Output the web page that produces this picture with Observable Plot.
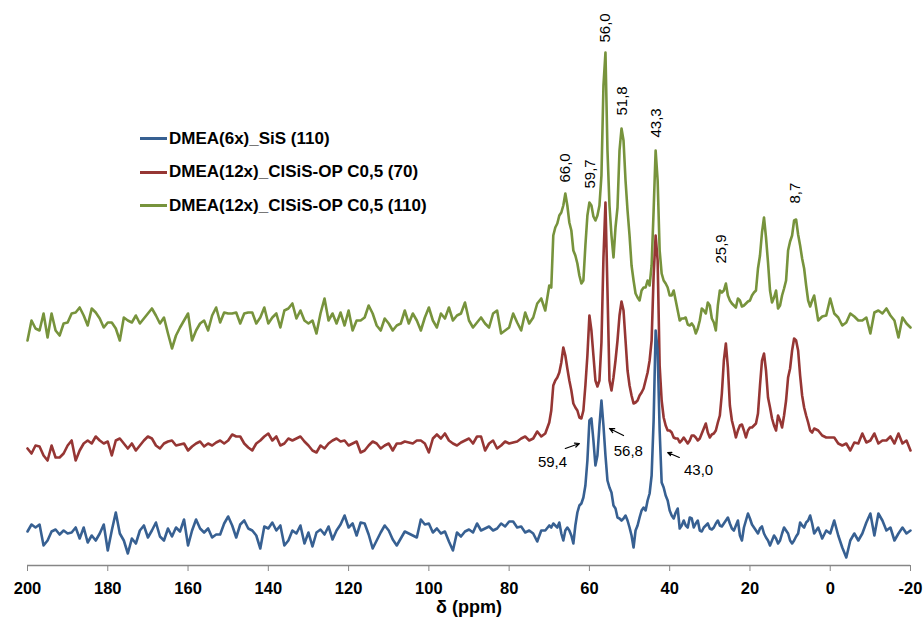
<!DOCTYPE html>
<html>
<head>
<meta charset="utf-8">
<script src="https://cdn.jsdelivr.net/npm/d3@7"></script>
<script src="https://cdn.jsdelivr.net/npm/@observablehq/plot@0.6"></script>
<style>
  html, body { margin: 0; padding: 0; background: #fff; }
  #wrap { position: relative; width: 923px; height: 623px; font-family: "Liberation Sans", Arial, sans-serif; }
  #legend { position: absolute; left: 140px; top: 122px; }
  .item { position: relative; height: 33.5px; display: flex; align-items: center; }
  .swatch { width: 27px; height: 0; border-top: 3px solid; margin-right: 2px; }
  .lab { font-weight: bold; font-size: 17px; color: #000; white-space: nowrap; }
</style>
</head>
<body>
<div id="wrap"><div id="chart"></div><div id="legend"></div></div>
<script>
// ---- sampling positions (ppm) ----
const ppm = [
  ...d3.range(200, 70.5, -1),   // 200 .. 71
  ...d3.range(70, 4.25, -0.5),  // 70 .. 4.5
  ...d3.range(4, -20.5, -1)     // 4 .. -20
];

// ---- series names / colours ----
const seriesNames = ["DMEA(6x)_SiS (110)", "DMEA(12x)_ClSiS-OP C0,5 (70)", "DMEA(12x)_ClSiS-OP C0,5 (110)"];
const seriesColors = ["#376092", "#963634", "#77933C"];

// ---- intensities (stacked display offsets included) ----
const greenVals = [
  225,245,237,235,252,228,252,235,230,242,
  243,252,253,258,250,240,257,253,247,238,
  243,243,237,225,248,245,243,250,242,247,
  252,257,250,242,248,232,217,230,238,245,
  252,225,235,242,245,235,250,258,243,253,
  252,252,253,242,252,253,253,242,248,258,
  242,248,252,238,255,257,262,247,255,245,
  242,245,232,252,267,245,252,242,253,240,
  255,235,245,245,248,260,252,240,235,247,
  242,235,240,242,255,242,252,245,235,248,
  258,245,238,252,247,258,245,250,252,263,
  245,238,243,248,242,238,252,255,232,235,
  238,252,243,235,253,242,248,262,267,255,
  // 70 .. 4.5 (step 0.5)
  280,278,330,338,342,350,353,360,372,360,
  343,335,315,310,302,290,282,285,320,350,
  363,360,349,345,350,360,390,480,513,415,
  360,330,308,338,358,415,437,425,385,355,
  330,300,285,272,268,265,275,278,278,285,
  280,300,355,415,385,315,292,285,282,278,
  270,270,275,265,255,245,247,247,248,241,
  240,242,239,232,237,245,257,255,252,263,
  260,247,243,235,260,275,273,275,282,270,
  265,262,260,258,267,265,259,260,262,264,
  265,270,273,275,297,310,333,348,328,303,
  275,263,268,275,257,260,270,277,285,315,
  324,330,345,346,331,320,307,297,280,265,
  259,265,
  // 4 .. -20
  270,245,249,250,267,252,248,240,243,252,
  249,245,245,248,232,253,255,252,257,250,
  245,228,248,242,238
];

const redVals = [
  117,112,120,119,110,105,120,108,108,112,
  120,125,105,115,122,125,122,129,125,122,
  124,110,125,127,122,117,122,115,120,125,
  129,127,120,117,122,124,125,120,121,122,
  115,119,122,124,119,122,120,123,125,122,
  125,131,129,129,122,118,115,122,125,129,
  132,125,129,120,122,127,125,127,129,124,
  120,115,113,120,117,122,125,127,124,125,
  120,122,124,113,115,120,124,122,117,120,
  122,115,122,122,124,123,122,125,125,122,
  113,127,131,127,132,125,122,120,123,125,
  127,122,129,129,115,122,125,117,120,124,
  122,123,124,127,129,125,127,134,129,132,
  // 70 .. 4.5 (step 0.5)
  143,155,180,185,188,193,203,218,210,197,
  185,175,162,158,155,148,147,155,180,210,
  250,235,210,185,179,185,223,308,363,275,
  185,175,188,205,225,250,264,255,225,195,
  180,170,162,163,165,170,173,177,185,193,
  205,225,290,330,305,200,165,148,140,135,
  135,133,128,127,127,123,125,128,125,122,
  125,130,130,128,125,127,132,137,142,133,
  128,131,132,135,143,150,172,205,222,198,
  160,145,137,128,135,140,141,135,128,135,
  138,138,140,142,152,180,205,212,195,168,
  158,147,140,135,150,145,138,150,165,188,
  197,215,227,225,215,190,170,158,150,143,
  135,133,
  // 4 .. -20
  137,135,130,128,128,128,122,120,122,115,
  123,122,132,123,125,132,122,125,125,129,
  122,132,122,125,115
];

const blueVals = [
  34,41,38,41,20,25,34,36,31,35,
  32,33,38,27,38,23,30,25,32,41,
  15,35,53,32,25,12,27,22,35,40,
  28,35,43,29,25,37,29,38,34,46,
  20,35,46,37,33,37,28,31,31,42,
  49,40,28,41,45,37,35,30,17,39,
  37,43,35,40,20,25,35,32,40,22,
  33,19,33,36,31,39,26,35,41,50,
  38,42,30,43,42,31,17,25,33,40,
  35,26,20,27,34,32,30,28,46,41,
  42,33,37,32,34,24,15,33,29,34,
  36,33,42,35,37,39,35,37,42,39,
  44,44,38,39,33,35,32,24,35,35,
  // 70 .. 4.5 (step 0.5)
  40,38,42,40,38,43,32,25,35,38,
  35,30,22,40,53,60,62,68,80,105,
  145,147,125,100,110,140,165,140,110,85,
  78,73,60,57,48,47,45,47,50,45,
  38,30,18,35,40,48,55,58,55,65,
  72,90,145,235,215,135,83,78,70,65,
  55,50,47,53,57,37,40,45,40,38,
  48,47,38,42,45,35,34,38,40,42,
  37,36,38,42,45,40,39,42,45,48,
  42,37,35,40,45,30,25,38,45,52,
  47,41,38,35,32,37,39,32,28,25,
  20,25,30,27,22,25,32,38,35,32,
  25,22,25,29,32,43,40,38,43,45,
  50,42,
  // 4 .. -20
  32,38,27,35,32,45,30,18,8,25,
  32,25,32,43,52,30,52,45,35,38,
  25,32,38,32,35
];

// ---- axis ticks ----
const xTicks = [200, 180, 160, 140, 120, 100, 80, 60, 40, 20, 0, -20];

// ---- peak annotations (green trace) ----
const peakLabels = ["66,0", "59,7", "56,0", "51,8", "43,3", "25,9", "8,7"];
const peakPpm    = [66.0, 59.7, 56.0, 51.8, 43.3, 27.2, 8.7];
const peakLabelY = [383, 377, 523, 450, 428, 302, 362];

// ---- blue-trace callouts ----
const calloutText = ["59,4", "56,8", "43,0"];
const calloutX    = [69.2, 50.3, 32.8];
const calloutY    = [103, 114, 95];
const arrowX1 = [66.0, 51.5, 37.6];
const arrowY1 = [117, 130, 108];
const arrowX2 = [62.5, 55.0, 40.5];
const arrowY2 = [122, 137, 113];

for (const [n, a] of [["green", greenVals], ["red", redVals], ["blue", blueVals]]) {
  if (a.length !== ppm.length) throw new Error(n + " length " + a.length + " != " + ppm.length);
}

const mk = (vals) => ppm.map((p, i) => ({ppm: p, v: vals[i]}));
const green = mk(greenVals), red = mk(redVals), blue = mk(blueVals);
const peaks = peakLabels.map((t, i) => ({t, x: peakPpm[i], y: peakLabelY[i]}));
const callouts = calloutText.map((t, i) => ({t, x: calloutX[i], y: calloutY[i],
  x1: arrowX1[i], y1: arrowY1[i], x2: arrowX2[i], y2: arrowY2[i]}));

const font = '"Liberation Sans", Arial, sans-serif';

const chart = Plot.plot({
  width: 923,
  height: 623,
  marginLeft: 27,
  marginRight: 13,
  marginTop: 40,
  marginBottom: 58,
  style: {fontFamily: font, color: "#000", background: "#fff", overflow: "visible"},
  x: {domain: [200, -20], ticks: xTicks},
  y: {domain: [0, 525], axis: null},
  marks: [
    Plot.ruleY([0], {stroke: "#868686", strokeWidth: 1.3}),
    Plot.axisX({ticks: xTicks, tickSize: 6, tickPadding: 11, stroke: "#868686",
      fontSize: 16.5, fontWeight: "bold", label: null, tickFormat: d => String(d)}),
    Plot.text(["δ (ppm)"], {frameAnchor: "bottom", dy: 42, lineAnchor: "middle",
      fontSize: 18, fontWeight: "bold", fill: "#000"}),
    Plot.line(green, {x: "ppm", y: "v", stroke: seriesColors[2], strokeWidth: 2.6, curve: "linear"}),
    Plot.line(red, {x: "ppm", y: "v", stroke: seriesColors[1], strokeWidth: 2.6, curve: "linear"}),
    Plot.line(blue, {x: "ppm", y: "v", stroke: seriesColors[0], strokeWidth: 2.6, curve: "linear"}),
    Plot.text(peaks, {x: "x", y: "y", text: "t", rotate: -90, textAnchor: "start",
      lineAnchor: "middle", fontSize: 15, fill: "#000"}),
    Plot.arrow(callouts, {x1: "x1", y1: "y1", x2: "x2", y2: "y2", stroke: "#000",
      strokeWidth: 1.2, headLength: 7, headAngle: 50}),
    Plot.text(callouts, {x: "x", y: "y", text: "t", fontSize: 15, fill: "#000"})
  ]
});
document.getElementById("chart").appendChild(chart);

// legend
const leg = d3.select("#legend");
seriesNames.forEach((n, i) => {
  const it = leg.append("div").attr("class", "item");
  it.append("div").attr("class", "swatch").style("border-top-color", seriesColors[i]);
  it.append("div").attr("class", "lab").text(n);
});
</script>
</body>
</html>
